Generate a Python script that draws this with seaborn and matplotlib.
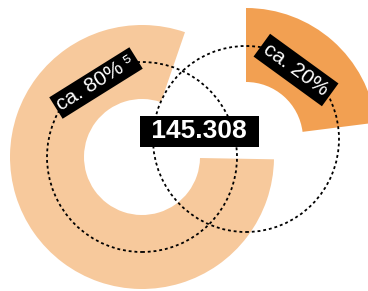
import matplotlib
matplotlib.use("Agg")
import matplotlib.pyplot as plt
import seaborn as sns

# anteile der beiden ringe
big_share = [80, 20]      # hellorange ring, rest bleibt leer
small_share = [23, 77]    # dunkelorange stueck, rest bleibt leer
labels = ["ca. 80%", "ca. 20%"]
footnote = "\u2075"
total = "145.308"

light = "#F7C99C"
dark = "#F2A052"

sns.set_theme(style="white")
plt.rcParams["font.family"] = ["Liberation Sans", "DejaVu Sans"]

fig = plt.figure(figsize=(3.68, 2.91), dpi=100)
ax = fig.add_axes([0, 0, 1, 1])

H = 291
# grosser ring
ax.pie(big_share, radius=132, center=(142, H - 157), startangle=71,
       counterclock=True, colors=[light, "none"],
       wedgeprops=dict(width=74, edgecolor="none", linewidth=0))
# kleiner ring (herausgezogen)
ax.pie(small_share, radius=131, center=(246, H - 139), startangle=90,
       counterclock=False, colors=[dark, "none"],
       wedgeprops=dict(width=74, edgecolor="none", linewidth=0))

# gepunktete kreise
dots = (0, (1.6, 1.6))
ax.add_patch(plt.Circle((142, H - 157), 95, fill=False, ls=dots, lw=1.3,
                        color="black", zorder=3))
ax.add_patch(plt.Circle((246, H - 139), 93, fill=False, ls=dots, lw=1.3,
                        color="black", zorder=3))

ax.text(96, H - 83, labels[0] + "\u2009" + footnote, rotation=32,
        rotation_mode="anchor", ha="center", va="center", color="white",
        fontsize=15,
        bbox=dict(facecolor="black", edgecolor="none", boxstyle="square,pad=0.15"),
        zorder=4)
ax.text(296, H - 70, labels[1], rotation=-36, rotation_mode="anchor",
        ha="center", va="center", color="white", fontsize=15,
        bbox=dict(facecolor="black", edgecolor="none", boxstyle="square,pad=0.22"),
        zorder=4)

ax.text(199.5, H - 131.5, " " + total + " ", ha="center", va="center",
        color="white", fontsize=19, fontweight="bold",
        bbox=dict(facecolor="black", edgecolor="none", boxstyle="square,pad=0.15"),
        zorder=5)

ax.set_xlim(0, 368)
ax.set_ylim(0, H)
ax.set_aspect("equal")
ax.axis("off")

fig.savefig("out.png", dpi=100)
